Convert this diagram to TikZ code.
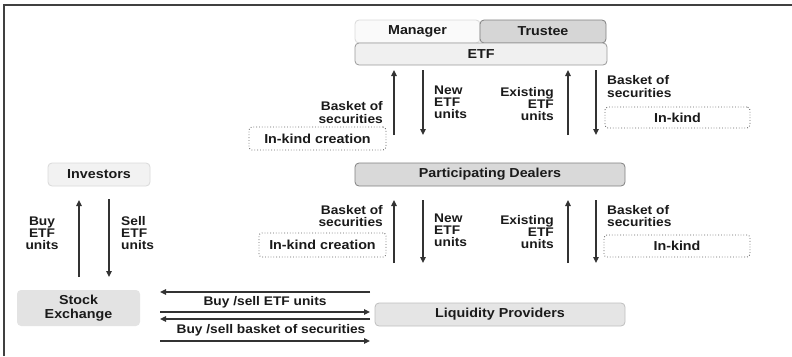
\documentclass[tikz,border=0pt]{standalone}
\usepackage{fontspec}
\setmainfont{Liberation Sans}[FakeStretch=1.1]
\usetikzlibrary{arrows.meta}
\definecolor{txt}{HTML}{1A1A1A}
\definecolor{arrc}{HTML}{333333}
\tikzset{
  x=1pt, y=-1pt,
  box/.style={rounded corners=4pt, inner sep=0pt, font=\fontsize{13}{14}\selectfont\bfseries, text=txt, align=center, line width=0.8pt},
  dotbox/.style={box, draw=black!60, dotted, line width=0.9pt, fill=white, rounded corners=3pt},
  lbl/.style={inner sep=0pt, font=\fontsize{12.5}{12.2}\selectfont\bfseries, text=txt},
  arr/.style={draw=arrc, line width=1.3pt, -{Triangle[length=6pt,width=5.5pt]}},
}
\begin{document}
\begin{tikzpicture}
\useasboundingbox (0,0) rectangle (792,356);
% frame
\draw[line width=2pt, color=black!75] (3.5,356) -- (3.5,5) -- (792,5);

% boxes
\node[box, fill=black!2, draw=black!15, minimum width=125pt, minimum height=23pt] (mgr) at (417.5,31.5) {Manager};
\node[box, fill=black!16, draw=black!50, minimum width=126pt, minimum height=23pt] (tru) at (543,31.5) {Trustee};
\node[box, fill=black!6, draw=black!40, minimum width=252pt, minimum height=22pt] (etf) at (481,54) {ETF};
\node[box, fill=black!15, draw=black!50, minimum width=270pt, minimum height=23pt] (pd) at (490,174.5) {Participating Dealers};
\node[box, fill=black!10, draw=black!25, minimum width=250pt, minimum height=23pt] (lp) at (500,314.5) {Liquidity Providers};
\node[box, fill=black!5, draw=black!15, minimum width=102pt, minimum height=23pt] (inv) at (99,174.5) {Investors};
\node[box, fill=black!11, minimum width=123pt, minimum height=36pt] (se) at (78.5,308) {Stock\\Exchange};

\node[dotbox, minimum width=137pt, minimum height=23pt] (ikc1) at (317.5,138.5) {In-kind creation};
\node[dotbox, minimum width=145pt, minimum height=21pt] (ik1) at (677.5,117.5) {In-kind};
\node[dotbox, minimum width=127pt, minimum height=24pt] (ikc2) at (322.5,245) {In-kind creation};
\node[dotbox, minimum width=146pt, minimum height=22pt] (ik2) at (677,246) {In-kind};

% labels top
\node[lbl, anchor=east, align=right] (l1) at (383,112.5) {Basket of\\securities};
\node[lbl, anchor=west, align=left] (l2) at (434,102) {New\\ETF\\units};
\node[lbl, anchor=east, align=right] (l3) at (554,104) {Existing\\ETF\\units};
\node[lbl, anchor=west, align=left] (l4) at (607,86.5) {Basket of\\securities};
% labels middle
\node[lbl, anchor=east, align=right] (m1) at (383,216) {Basket of\\securities};
\node[lbl, anchor=west, align=left] (m2) at (434,230) {New\\ETF\\units};
\node[lbl, anchor=east, align=right] (m3) at (554,232) {Existing\\ETF\\units};
\node[lbl, anchor=west, align=left] (m4) at (607,216) {Basket of\\securities};
% labels left
\node[lbl, align=center] (b1) at (42,233) {Buy\\ETF\\units};
\node[lbl, anchor=west, align=left] (s1) at (121,233) {Sell\\ETF\\units};
\node[lbl] (h1) at (265,302) {Buy /sell ETF units};
\node[lbl] (h2) at (271,330) {Buy /sell basket of securities};

% arrow end coordinates
\coordinate (ta1) at (394,135); \coordinate (tb1) at (394,70);
\coordinate (ta2) at (423,70);  \coordinate (tb2) at (423,135);
\coordinate (ta3) at (568,135); \coordinate (tb3) at (568,70);
\coordinate (ta4) at (596,70);  \coordinate (tb4) at (596,135);
\coordinate (ma1) at (394,263); \coordinate (mb1) at (394,200);
\coordinate (ma2) at (423,200); \coordinate (mb2) at (423,263);
\coordinate (ma3) at (568,263); \coordinate (mb3) at (568,200);
\coordinate (ma4) at (596,200); \coordinate (mb4) at (596,263);
\coordinate (la1) at (79,277);  \coordinate (lb1) at (79,200);
\coordinate (la2) at (109,199); \coordinate (lb2) at (109,277);
\coordinate (hr1) at (370,292); \coordinate (hl1) at (160,292);
\coordinate (hl2) at (160,312); \coordinate (hr2) at (370,312);
\coordinate (hr3) at (370,319); \coordinate (hl3) at (160,319);
\coordinate (hl4) at (160,341); \coordinate (hr4) at (370,341);

\foreach \a/\b in {ta1/tb1,ta2/tb2,ta3/tb3,ta4/tb4,ma1/mb1,ma2/mb2,ma3/mb3,ma4/mb4,la1/lb1,la2/lb2,hr1/hl1,hl2/hr2,hr3/hl3,hl4/hr4}
  \draw[arr] (\a) -- (\b);
\end{tikzpicture}
\end{document}
